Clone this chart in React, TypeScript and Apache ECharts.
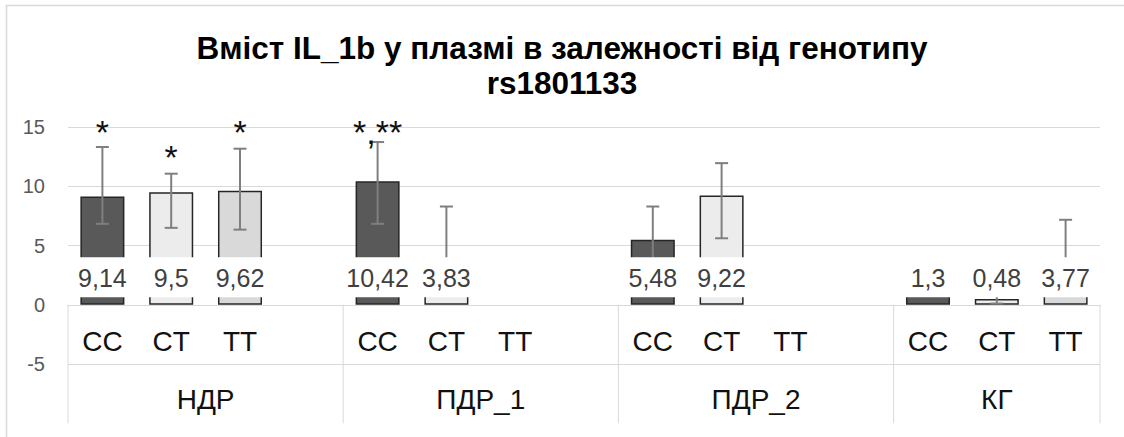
import React, { useEffect, useRef } from 'react';
import * as echarts from 'echarts';

const titleText = 'Вміст IL_1b у плазмі в залежності від генотипу\nrs1801133';
const groups = ['НДР', 'ПДР_1', 'ПДР_2', 'КГ'];
const groupSizes = [4, 4, 4, 3];
const categories = ['CC', 'CT', 'TT', '', 'CC', 'CT', 'TT', '', 'CC', 'CT', 'TT', '', 'CC', 'CT', 'TT'];
const values = [9.14, 9.5, 9.62, null, 10.42, 3.83, null, null, 5.48, 9.22, null, null, 1.3, 0.48, 3.77];
const errLow = [6.83, 6.49, 6.34, null, 6.83, 2.0, null, null, 2.7, 5.61, null, null, 0.9, 0.1, 1.0];
const errHigh = [13.31, 11.06, 13.17, null, 13.73, 8.29, null, null, 8.29, 11.95, null, null, 1.7, 0.9, 7.17];
const marks = ['*', '*', '*', '', '*,**', '', '', '', '', '', '', '', '', '', ''];
const markLevel = [14.6, 12.5, 14.6, null, 14.6, null, null, null, null, null, null, null, null, null, null];
const yMin = -5;
const yMax = 15;
const yStep = 5;
const tableBottom = -10;
const groupLabelLevel = -8;

const FONT = '"Liberation Sans", Arial, sans-serif';
const genotypeColors: Record<string, string> = { CC: '#595959', CT: '#ececec', TT: '#d9d9d9' };

function fmt(v: number) {
  return String(v).replace('.', ',');
}

export default function App() {
  const ref = useRef<HTMLDivElement>(null);
  useEffect(() => {
    if (!ref.current) return;
    const chart = echarts.init(ref.current, undefined, { renderer: 'svg' });

    const barData = values.map((v, i) =>
      v == null ? '-' : { value: v, itemStyle: { color: genotypeColors[categories[i]] } }
    );
    const errData: any[] = [];
    values.forEach((v, i) => {
      if (v != null) errData.push([i, v, errLow[i], errHigh[i]]);
    });
    const groupData: any[] = [];
    let start = 0;
    groupSizes.forEach((s, k) => {
      groupData.push([start, s, k]);
      start += s;
    });

    chart.setOption({
      animation: false,
      backgroundColor: '#fff',
      title: {
        text: titleText,
        left: 'center',
        top: 25,
        textStyle: { fontFamily: FONT, fontSize: 31.5, fontWeight: 'bold', color: '#000', lineHeight: 35 },
      },
      graphic: [
        {
          type: 'rect',
          shape: { x: 6.5, y: 5.5, width: 1300, height: 600 },
          style: { fill: 'none', stroke: '#d9d9d9', lineWidth: 1.5 },
          silent: true,
        },
      ],
      grid: { left: 68, right: 24, top: 127, bottom: 73, containLabel: false },
      xAxis: {
        type: 'category',
        data: categories,
        axisLine: { onZero: true, lineStyle: { color: '#d9d9d9', width: 1 } },
        axisTick: { show: false },
        axisLabel: { interval: 0, fontFamily: FONT, fontSize: 28, lineHeight: 28, color: '#111', margin: -37 },
        splitLine: { show: false },
      },
      yAxis: {
        type: 'value',
        min: yMin,
        max: yMax,
        interval: yStep,
        axisLine: { show: false },
        axisTick: { show: false },
        axisLabel: { fontFamily: FONT, fontSize: 20, color: '#595959', margin: 23 },
        splitLine: { lineStyle: { color: '#d9d9d9', width: 1 } },
      },
      series: [
        {
          type: 'bar',
          data: barData,
          barWidth: '64%',
          z: 2,
          itemStyle: { borderColor: '#262626', borderWidth: 1.5 },
        },
        {
          type: 'custom',
          z: 3,
          clip: false,
          encode: { x: 0, y: 1 },
          data: errData,
          renderItem: (params: any, api: any) => {
            const i = api.value(0);
            const x = api.coord([i, 0])[0];
            const y0 = api.coord([i, 0])[1];
            const yLo = api.coord([i, api.value(2)])[1];
            const yHi = api.coord([i, api.value(3)])[1];
            const bw = api.size([1, 0])[0];
            const es = { stroke: '#7f7f7f', lineWidth: 2 };
            const cap = 6.5;
            const children: any[] = [
              { type: 'line', shape: { x1: x, y1: yLo, x2: x, y2: yHi }, style: es },
              { type: 'line', shape: { x1: x - cap, y1: yLo, x2: x + cap, y2: yLo }, style: es },
              { type: 'line', shape: { x1: x - cap, y1: yHi, x2: x + cap, y2: yHi }, style: es },
            ];
            const boxW = bw * 0.64 + 12;
            children.push({
              type: 'rect',
              shape: { x: x - boxW / 2, y: y0 - 47.5, width: boxW, height: 40 },
              style: { fill: '#fff' },
            });
            children.push({
              type: 'text',
              x: x,
              y: y0 - 26.5,
              style: {
                text: fmt(api.value(1)),
                fontFamily: FONT,
                fontSize: 25,
                fill: '#404040',
                align: 'center',
                verticalAlign: 'middle',
              },
            });
            const m = marks[i];
            const lvl = markLevel[i];
            if (m && lvl != null) {
              children.push({
                type: 'text',
                x: x,
                y: api.coord([i, lvl])[1],
                style: {
                  text: m,
                  fontFamily: FONT,
                  fontSize: 34,
                  fill: '#111',
                  align: 'center',
                  verticalAlign: 'middle',
                },
              });
            }
            return { type: 'group', children };
          },
        },
        {
          type: 'custom',
          z: 1,
          clip: false,
          silent: true,
          encode: { x: 0, y: 1 },
          data: groupData,
          renderItem: (params: any, api: any) => {
            const s = api.value(0);
            const n = api.value(1);
            const k = api.value(2);
            const bw = api.size([1, 0])[0];
            const xL = api.coord([s, 0])[0] - bw / 2;
            const xR = xL + n * bw;
            const yTop = api.coord([s, 0])[1];
            const yBot = api.coord([s, tableBottom])[1];
            const yText = api.coord([s, groupLabelLevel])[1];
            const ls = { stroke: '#d9d9d9', lineWidth: 1 };
            const children: any[] = [
              { type: 'line', shape: { x1: xL, y1: yTop, x2: xL, y2: yBot }, style: ls },
            ];
            if (k === groups.length - 1) {
              children.push({ type: 'line', shape: { x1: xR, y1: yTop, x2: xR, y2: yBot }, style: ls });
            }
            children.push({
              type: 'text',
              x: (xL + xR) / 2,
              y: yText,
              style: {
                text: groups[k],
                fontFamily: FONT,
                fontSize: 28,
                fill: '#111',
                align: 'center',
                verticalAlign: 'middle',
              },
            });
            return { type: 'group', children };
          },
        },
      ],
    });
    return () => chart.dispose();
  }, []);
  return <div ref={ref} style={{ position: 'absolute', left: 0, top: 0, width: 1124, height: 437 }} />;
}
